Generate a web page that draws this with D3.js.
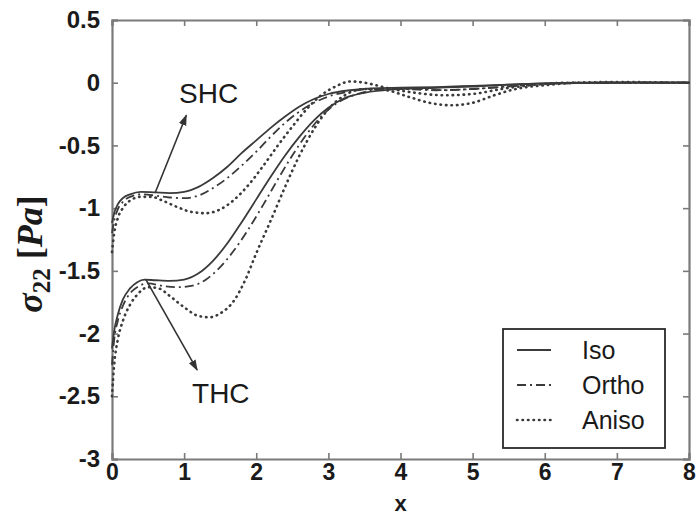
<!DOCTYPE html>
<html>
<head>
<meta charset="utf-8">
<script src="https://cdn.jsdelivr.net/npm/d3@7"></script>
<style>
  html, body { margin: 0; padding: 0; background: #fff; }
  svg { display: block; }
</style>
</head>
<body>
<svg id="chart" width="697" height="518"></svg>
<script>
// x positions and sigma_22 values for each case
const shcIsoX   = [0, 0.03, 0.08, 0.15, 0.25, 0.4, 0.6, 0.8, 1.0, 1.2, 1.4, 1.6, 1.8, 2.0, 2.2, 2.4, 2.6, 2.8, 3.0, 3.3, 3.6, 4.0, 4.5, 5.0, 5.5, 6.0, 7.0, 8.0];
const shcIsoY   = [-1.12, -1.04, -0.97, -0.92, -0.89, -0.87, -0.875, -0.88, -0.87, -0.83, -0.76, -0.67, -0.56, -0.46, -0.36, -0.27, -0.19, -0.13, -0.09, -0.06, -0.045, -0.04, -0.035, -0.025, -0.015, -0.005, 0, 0];

const shcOrthoX = [0, 0.03, 0.08, 0.15, 0.25, 0.4, 0.6, 0.8, 1.0, 1.2, 1.4, 1.6, 1.8, 2.0, 2.2, 2.4, 2.6, 2.8, 3.0, 3.3, 3.6, 4.0, 4.5, 5.0, 5.5, 6.0, 7.0, 8.0];
const shcOrthoY = [-1.2, -1.1, -1.01, -0.95, -0.91, -0.89, -0.9, -0.915, -0.92, -0.9, -0.84, -0.76, -0.66, -0.55, -0.43, -0.32, -0.23, -0.16, -0.11, -0.07, -0.05, -0.05, -0.06, -0.05, -0.03, -0.01, 0, 0];

const shcAnisoX = [0, 0.03, 0.08, 0.15, 0.25, 0.4, 0.55, 0.7, 0.9, 1.1, 1.3, 1.5, 1.7, 1.9, 2.1, 2.3, 2.5, 2.7, 2.9, 3.1, 3.3, 3.5, 3.8, 4.2, 4.6, 5.0, 5.4, 5.8, 6.3, 7.0, 8.0];
const shcAnisoY = [-1.35, -1.2, -1.08, -1.0, -0.94, -0.91, -0.91, -0.94, -0.99, -1.03, -1.04, -1.01, -0.93, -0.81, -0.66, -0.5, -0.35, -0.21, -0.1, -0.03, 0.01, 0.0, -0.04, -0.08, -0.1, -0.09, -0.05, -0.02, 0, 0.005, 0];

const thcIsoX   = [0, 0.03, 0.08, 0.15, 0.25, 0.35, 0.45, 0.6, 0.8, 1.0, 1.2, 1.4, 1.6, 1.8, 2.0, 2.2, 2.4, 2.6, 2.8, 3.0, 3.2, 3.5, 4.0, 4.5, 5.0, 5.5, 6.0, 7.0, 8.0];
const thcIsoY   = [-2.12, -1.98, -1.85, -1.73, -1.64, -1.59, -1.57, -1.575, -1.58, -1.57, -1.52, -1.42, -1.28, -1.11, -0.93, -0.75, -0.58, -0.43, -0.3, -0.2, -0.13, -0.08, -0.05, -0.04, -0.03, -0.015, -0.005, 0, 0];

const thcOrthoX = [0, 0.03, 0.08, 0.15, 0.25, 0.35, 0.5, 0.7, 0.9, 1.1, 1.3, 1.5, 1.7, 1.9, 2.1, 2.3, 2.5, 2.7, 2.9, 3.1, 3.4, 3.8, 4.2, 4.6, 5.0, 5.5, 6.0, 7.0, 8.0];
const thcOrthoY = [-2.25, -2.05, -1.9, -1.78, -1.68, -1.63, -1.6, -1.62, -1.63, -1.62, -1.57, -1.47, -1.33, -1.16, -0.97, -0.77, -0.58, -0.41, -0.27, -0.17, -0.09, -0.05, -0.05, -0.06, -0.05, -0.03, -0.01, 0, 0];

const thcAnisoX = [0, 0.03, 0.08, 0.15, 0.25, 0.35, 0.5, 0.65, 0.8, 1.0, 1.2, 1.35, 1.5, 1.7, 1.85, 2.0, 2.2, 2.4, 2.6, 2.8, 3.0, 3.2, 3.5, 3.8, 4.1, 4.4, 4.7, 5.0, 5.3, 5.6, 6.0, 6.5, 7.0, 8.0];
const thcAnisoY = [-2.5, -2.25, -2.05, -1.9, -1.77, -1.69, -1.63, -1.64, -1.7, -1.79, -1.86, -1.87, -1.84, -1.73, -1.57, -1.36, -1.1, -0.83, -0.58, -0.37, -0.21, -0.11, -0.05, -0.06, -0.11, -0.16, -0.18, -0.16, -0.1, -0.05, -0.02, 0, 0, 0];

// axis ticks
const xTicks = [0, 1, 2, 3, 4, 5, 6, 7, 8];
const yTicks = [0.5, 0, -0.5, -1, -1.5, -2, -2.5, -3];
const yTickLabels = ["0.5", "0", "-0.5", "-1", "-1.5", "-2", "-2.5", "-3"];

// legend entries
const legendNames = ["Iso", "Ortho", "Aniso"];

const zip = (xs, ys) => xs.map((x, i) => [x, ys[i]]);
const curves = [
  { group: "SHC", kind: "Iso",   pts: zip(shcIsoX, shcIsoY) },
  { group: "SHC", kind: "Ortho", pts: zip(shcOrthoX, shcOrthoY) },
  { group: "SHC", kind: "Aniso", pts: zip(shcAnisoX, shcAnisoY) },
  { group: "THC", kind: "Iso",   pts: zip(thcIsoX, thcIsoY) },
  { group: "THC", kind: "Ortho", pts: zip(thcOrthoX, thcOrthoY) },
  { group: "THC", kind: "Aniso", pts: zip(thcAnisoX, thcAnisoY) }
];

const styles = {
  Iso:   { dash: null,        width: 1.8, cap: "butt" },
  Ortho: { dash: "9,4,2,4",   width: 1.8, cap: "butt" },
  Aniso: { dash: "0.5,5",     width: 2.6, cap: "round" }
};
const lineColor = "#3a3a3a";

const svg = d3.select("#chart");
const plot = { left: 112, right: 689, top: 20, bottom: 459 };

const x = d3.scaleLinear().domain([0, 8]).range([plot.left, plot.right]);
const y = d3.scaleLinear().domain([-3, 0.5]).range([plot.bottom, plot.top]);

// frame and ticks (ticks on all four sides, pointing inward)
const frameColor = "#7a7a7a";
const tickFont = "'Liberation Sans', Arial, sans-serif";

const bottomAxis = d3.axisBottom(x).tickValues(xTicks).tickSize(-6).tickPadding(5).tickFormat(d3.format("d"));
const topAxis = d3.axisTop(x).tickValues(xTicks).tickSize(-6).tickFormat("");
const leftAxis = d3.axisLeft(y).tickValues(yTicks).tickSize(-6).tickPadding(12)
  .tickFormat((d, i) => yTickLabels[i]);
const rightAxis = d3.axisRight(y).tickValues(yTicks).tickSize(-6).tickFormat("");

function styleAxis(g, size) {
  g.select(".domain").attr("stroke", frameColor).attr("stroke-width", 2.2);
  g.selectAll(".tick line").attr("stroke", frameColor).attr("stroke-width", 1.6);
  g.selectAll(".tick text")
    .attr("fill", "#1a1a1a")
    .style("font-family", tickFont)
    .style("font-weight", "bold")
    .style("font-size", size + "px");
}

svg.append("g").attr("transform", `translate(0,${plot.bottom})`).call(bottomAxis).call(styleAxis, 23);
svg.append("g").attr("transform", `translate(0,${plot.top})`).call(topAxis).call(styleAxis, 23);
svg.append("g").attr("transform", `translate(${plot.left},0)`).call(leftAxis).call(styleAxis, 24);
svg.append("g").attr("transform", `translate(${plot.right},0)`).call(rightAxis).call(styleAxis, 24);

// curves
const line = d3.line().x(d => x(d[0])).y(d => y(d[1])).curve(d3.curveMonotoneX);

svg.append("g")
  .selectAll("path")
  .data(curves)
  .join("path")
  .attr("d", d => line(d.pts))
  .attr("fill", "none")
  .attr("stroke", lineColor)
  .attr("stroke-width", d => styles[d.kind].width)
  .attr("stroke-linecap", d => styles[d.kind].cap)
  .attr("stroke-dasharray", d => styles[d.kind].dash);

// annotation arrows
const defs = svg.append("defs");
defs.append("marker")
  .attr("id", "arrowhead")
  .attr("viewBox", "0 0 10 10")
  .attr("refX", 9).attr("refY", 5)
  .attr("markerWidth", 11).attr("markerHeight", 11)
  .attr("markerUnits", "userSpaceOnUse")
  .attr("orient", "auto")
  .append("path")
  .attr("d", "M0,1.5 L10,5 L0,8.5 Z")
  .attr("fill", "#333");

const annotations = [
  { label: "SHC", from: [0.6, -0.875], to: [1.03, -0.26], text: [0.93, -0.16] },
  { label: "THC", from: [0.47, -1.57], to: [1.18, -2.29], text: [1.11, -2.55] }
];

svg.append("g")
  .selectAll("line")
  .data(annotations)
  .join("line")
  .attr("x1", d => x(d.from[0])).attr("y1", d => y(d.from[1]))
  .attr("x2", d => x(d.to[0])).attr("y2", d => y(d.to[1]))
  .attr("stroke", "#333")
  .attr("stroke-width", 1.6)
  .attr("marker-end", "url(#arrowhead)");

svg.append("g")
  .selectAll("text")
  .data(annotations)
  .join("text")
  .attr("x", d => x(d.text[0])).attr("y", d => y(d.text[1]))
  .attr("fill", "#1a1a1a")
  .style("font-family", tickFont)
  .style("font-size", "28px")
  .text(d => d.label);

// legend
const legend = svg.append("g").attr("transform", "translate(503,329)");
legend.append("rect")
  .attr("width", 162).attr("height", 119)
  .attr("fill", "#fff")
  .attr("stroke", "#2a2a2a")
  .attr("stroke-width", 1.8);

const rows = legend.selectAll("g.row")
  .data(legendNames)
  .join("g")
  .attr("class", "row")
  .attr("transform", (d, i) => `translate(0,${21 + i * 35})`);

rows.append("line")
  .attr("x1", 14).attr("x2", 48)
  .attr("stroke", lineColor)
  .attr("stroke-width", d => styles[d].width)
  .attr("stroke-linecap", d => styles[d].cap)
  .attr("stroke-dasharray", d => styles[d].dash);

rows.append("text")
  .attr("x", 79).attr("y", 9)
  .attr("fill", "#1a1a1a")
  .style("font-family", tickFont)
  .style("font-size", "25px")
  .text(d => d);

// axis titles
svg.append("text")
  .attr("x", x(4)).attr("y", 511)
  .attr("text-anchor", "middle")
  .attr("fill", "#1a1a1a")
  .style("font-family", tickFont)
  .style("font-weight", "bold")
  .style("font-size", "22px")
  .text("x");

const yTitle = svg.append("text")
  .attr("transform", "translate(42,254) rotate(-90)")
  .attr("text-anchor", "middle")
  .attr("fill", "#1a1a1a")
  .style("font-family", "'Liberation Serif', 'DejaVu Serif', serif")
  .style("font-weight", "bold")
  .style("font-size", "36px");
yTitle.append("tspan").style("font-style", "italic").text("σ");
yTitle.append("tspan").attr("dy", 8).style("font-size", "25px").text("22");
yTitle.append("tspan").attr("dy", -8).text(" [");
yTitle.append("tspan").style("font-style", "italic").text("Pa");
yTitle.append("tspan").text("]");
</script>
</body>
</html>
